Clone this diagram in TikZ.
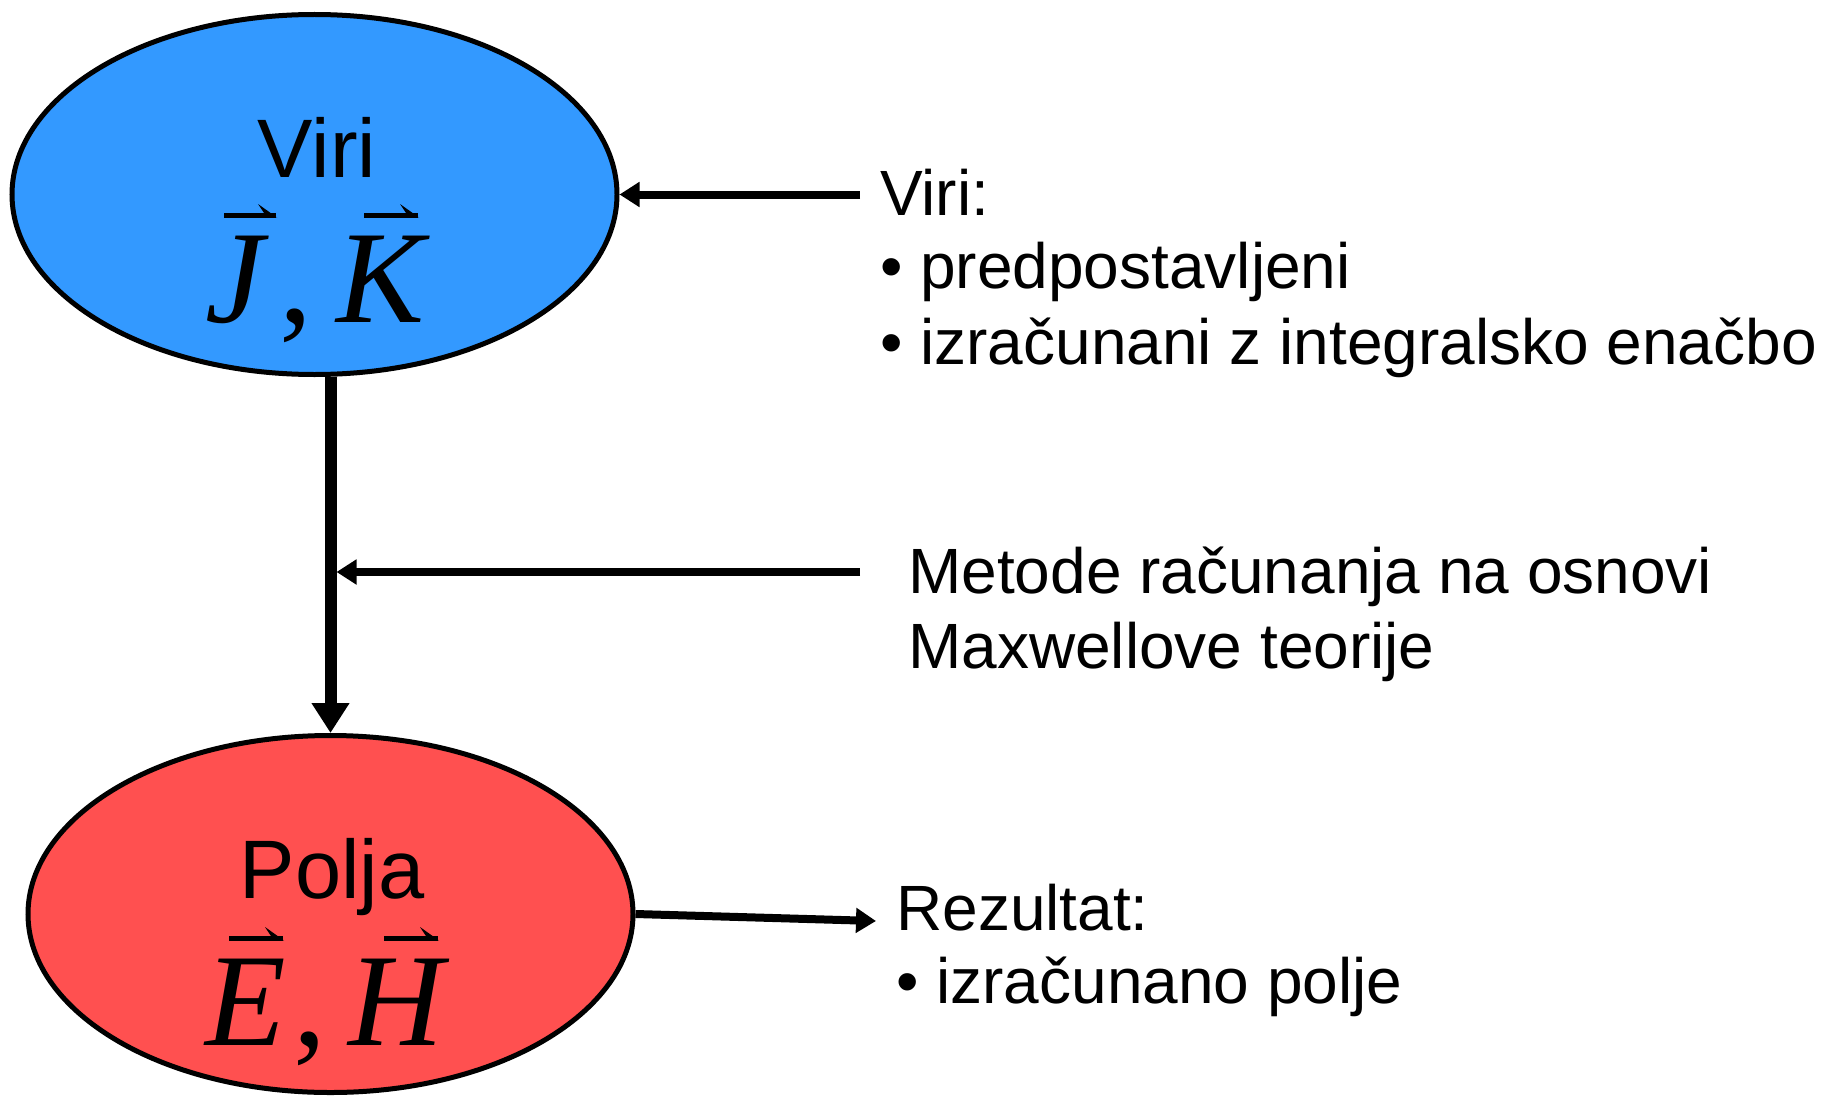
\documentclass[tikz,border=0pt]{standalone}
\usepackage{fontspec}
\setmainfont{Liberation Sans}
\newfontfamily\mathserif{Liberation Serif}
\usetikzlibrary{shapes.geometric,arrows.meta}
\definecolor{viriblue}{RGB}{51,153,255}
\definecolor{poljared}{RGB}{255,80,80}
\newcommand\harp[3]{\draw[harpoon] (#1,#3) -- (#2,#3); \fill (#2-18,#3-11) -- (#2+1,#3+2.5) -- (#2-12,#3-2) -- cycle;}
\begin{document}
\begin{tikzpicture}[x=1pt,y=-1pt,
 blob/.style={ellipse, draw=black, line width=5pt, inner sep=0pt, minimum width=605pt},
 title/.style={font=\fontsize{83}{90}\selectfont, anchor=base, inner sep=0pt},
 vecletter/.style={font=\fontsize{132}{140}\selectfont\mathserif\itshape, anchor=base, inner sep=0pt},
 commasign/.style={font=\fontsize{132}{140}\selectfont\mathserif, anchor=base, inner sep=0pt},
 harpoon/.style={line width=5pt},
 info/.style={font=\fontsize{64}{75}\selectfont, anchor=base west, inner sep=0pt},
 feed/.style={line width=8pt, -{Triangle[length=20pt,width=24pt]}},
 flow/.style={line width=12pt, -{Triangle[length=30pt,width=36pt]}}
]
\useasboundingbox (0,0) rectangle (1822,1097);
\fill[white] (0,0) rectangle (1822,1097);
% ellipses
\node[blob, fill=viriblue, minimum height=360pt] (viri) at (314.5,194.5) {};
\node[blob, fill=poljared, minimum height=357pt] (polja) at (330.5,914) {};
% titles
\node[title] (viriT) at (317,177) {Viri};
\node[title] (poljaT) at (332,898) {Polja};
% vector symbols
\node[vecletter] (J) at (235,322) {J};
\node[commasign] (c1) at (296,322) {,};
\node[vecletter] (K) at (381,322) {K};
\harp{224}{276}{215}
\harp{364}{418}{215}
\node[vecletter] (E) at (246,1045) {E};
\node[commasign] (c2) at (310,1045) {,};
\node[vecletter] (H) at (396,1045) {H};
\harp{229}{283}{938}
\harp{384}{438}{938}
% connectors
\draw[flow] (polja.north |- viri.south) -- (polja.north);
\coordinate (srcin) at (860,194.5);
\draw[feed] (srcin) -- (viri.east);
\coordinate (methin) at (860,572);
\draw[feed] (methin) -- ([xshift=6pt]polja.north |- methin);
\coordinate (resout) at (876,921);
\draw[feed] (polja.east) -- (resout);
% texts
\node[info] (v1) at (880,215) {Viri:};
\node[info] (v2) at (880,288) {• predpostavljeni};
\node[info] (v3) at (880,364) {• izračunani z integralsko enačbo};
\node[info] (m1) at (908,593) {Metode računanja na osnovi};
\node[info] (m2) at (908,668) {Maxwellove teorije};
\node[info] (r1) at (896,930) {Rezultat:};
\node[info] (r2) at (896,1003) {• izračunano polje};
\end{tikzpicture}
\end{document}
